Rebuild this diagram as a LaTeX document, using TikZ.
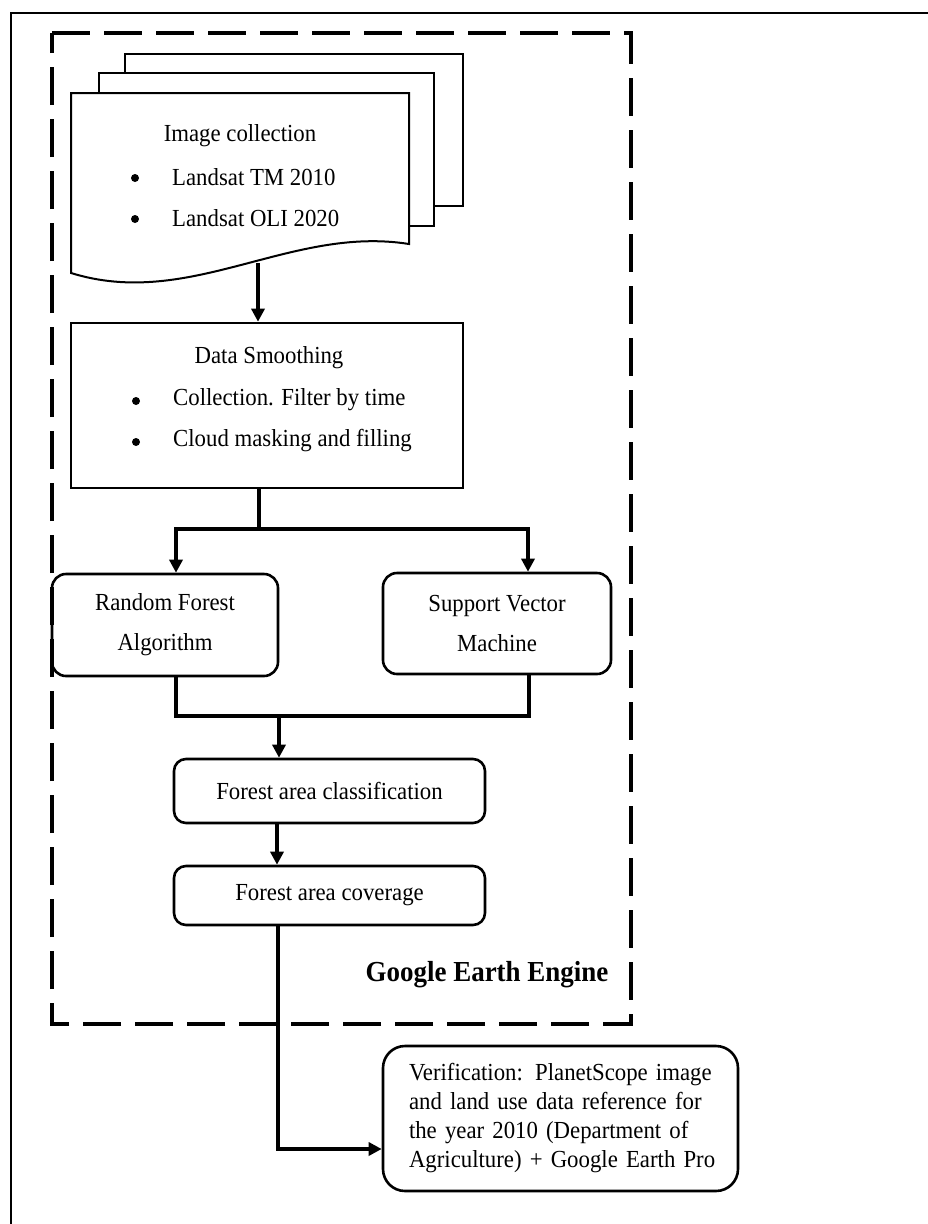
\documentclass[tikz,border=0pt]{standalone}
\usepackage{fontspec}
\setmainfont{Liberation Serif}[FakeStretch=0.93]
\usetikzlibrary{arrows.meta}
\begin{document}
\begin{tikzpicture}[x=1pt,y=-1pt,
  txt/.style={font=\fontsize{24.5}{28}\selectfont, inner sep=0pt},
  dot/.style={circle, fill, inner sep=0pt, minimum size=8pt},
  doc/.style={draw, fill=white, line width=2pt},
  sqbox/.style={draw, line width=2.6pt, inner sep=0pt},
  rbox/.style={draw, line width=2.6pt, rounded corners=14pt, inner sep=0pt, align=center,
    font=\fontsize{24.5}{40}\selectfont},
  conn/.style={line width=3.6pt},
  arr/.style={conn, -{Triangle[length=13pt,width=13pt]}},
  gee/.style={draw, line width=4.5pt, dash pattern=on 38pt off 14pt}
]
\useasboundingbox (0,0) rectangle (928,1224);
% outer frame (only left and top edges are visible)
\draw[line width=2.6pt] (11,1224) -- (11,13) -- (928,13);
% Google Earth Engine dashed frame
\draw[gee] (52,33) -- (631,33) -- (631,1024) -- (52,1024) -- cycle;
\node[font=\fontsize{29}{32}\selectfont\bfseries, inner sep=0pt] (geelabel) at (487,975) {Google Earth Engine};

% stacked documents
\draw[doc] (125,54) rectangle (463,206);
\draw[doc] (99,73) rectangle (434,226);
\draw[doc] (71,93) -- (409,93) -- (409,244) .. controls (290,225) and (190,310) .. (71,273) -- cycle;
\coordinate (docbot) at (258,263);
\node[txt] (imgc) at (240,136) {Image collection};
\node[dot] (bu1) at (135,178) {};
\node[txt, anchor=west] (ls1) at (172,177) {Landsat TM 2010};
\node[dot] (bu2) at (135,219) {};
\node[txt, anchor=west] (ls2) at (172,218) {Landsat OLI 2020};

% data smoothing
\node[sqbox, minimum width=392pt, minimum height=165pt] (dsm) at (267,405.5) {};
\node[txt] (dsmt) at (269,358) {Data Smoothing};
\node[dot] (bu3) at (136,401) {};
\node[txt, anchor=west] (ds1) at (173,400) {Collection. Filter by time};
\node[dot] (bu4) at (136,442) {};
\node[txt, anchor=west] (ds2) at (173,441) {Cloud masking and filling};

% classifiers
\node[rbox, minimum width=226pt, minimum height=102pt] (rf) at (165,625) {Random Forest\\Algorithm};
\node[rbox, minimum width=228pt, minimum height=101pt] (svm) at (497,623.5) {Support Vector\\Machine};
\node[rbox, rounded corners=12pt, minimum width=311pt, minimum height=64pt] (cls) at (329.5,791) {Forest area classification};
\node[rbox, rounded corners=12pt, minimum width=311pt, minimum height=59pt] (cov) at (329.5,895.5) {Forest area coverage};
\node[draw, line width=2.6pt, rounded corners=22pt, minimum width=355pt, minimum height=145pt,
  inner sep=0pt, align=left, text width=303pt, font=\fontsize{24.5}{29}\selectfont] (ver) at (560.5,1118.5)
  {\makebox[303pt][s]{Verification: PlanetScope image}\\
   \makebox[303pt][s]{and land use data reference for}\\
   \makebox[303pt][s]{the year 2010 (Department of}\\
   \makebox[300pt][s]{Agriculture) + Google Earth Pro}};

% connectors
\draw[arr] (docbot) -- (docbot |- dsm.north);
\coordinate (stem) at (259,529);
\coordinate (brL) at (176,529);
\coordinate (brR) at (528,529);
\draw[conn] (stem |- dsm.south) -- (stem);
\draw[arr] (stem) -| (brL |- rf.north);
\draw[arr] (stem) -| (brR |- svm.north);
\coordinate (mL) at (176,716);
\coordinate (mR) at (529,716);
\coordinate (mC) at (279,716);
\draw[conn] (mL |- rf.south) -- (mL) -- (mR) -- (mR |- svm.south);
\draw[arr] (mC) -- (mC |- cls.north);
\coordinate (c2) at (277,0);
\draw[arr] (c2 |- cls.south) -- (c2 |- cov.north);
\coordinate (vc) at (278,1149);
\draw[arr] (vc |- cov.south) -- (vc) -- (ver.west |- vc);
\end{tikzpicture}
\end{document}
